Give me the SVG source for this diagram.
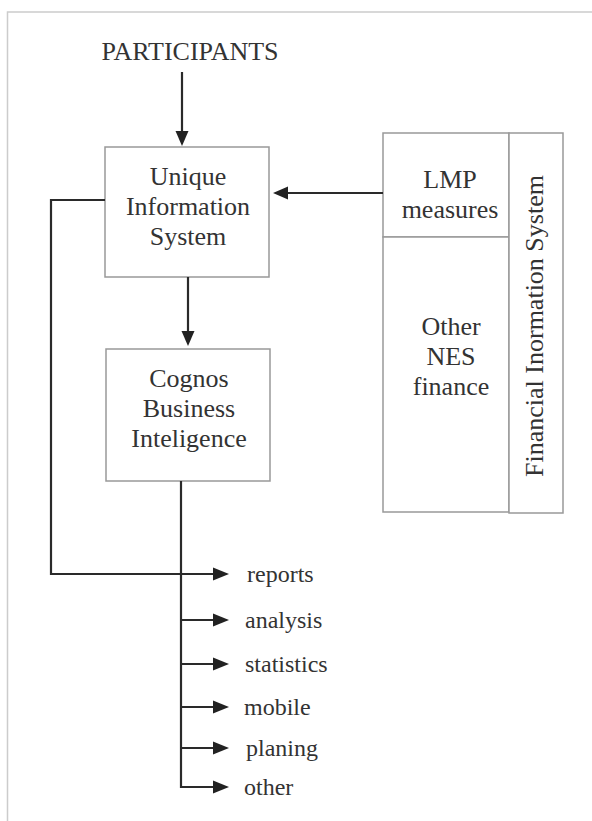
<svg xmlns="http://www.w3.org/2000/svg" width="592" height="821" viewBox="0 0 592 821">
  <style>
    .box { fill: #ffffff; stroke: #999999; stroke-width: 1.5; }
    .t { font-family: "Liberation Serif", "Times New Roman", serif; fill: #333333; }
    .bt { font-size: 26px; text-anchor: middle; }
    .lbl { font-size: 24px; }
    .con { fill: none; stroke: #2a2a2a; stroke-width: 2.2; }
    .head { fill: #222222; }
  </style>
  <rect x="0" y="0" width="592" height="821" fill="#ffffff"/>
  <path d="M7.5 821 V12 H592" fill="none" stroke="#cccccc" stroke-width="1.5"/>

  <g id="participants">
    <text class="t" x="190" y="60" font-size="26" text-anchor="middle">PARTICIPANTS</text>
  </g>

  <g id="unique-information-system">
    <rect class="box" x="105" y="147" width="164" height="130"/>
    <text class="t bt" x="188" y="185">Unique</text>
    <text class="t bt" x="188" y="215">Information</text>
    <text class="t bt" x="188" y="245">System</text>
  </g>

  <g id="cognos">
    <rect class="box" x="106" y="349" width="164" height="132"/>
    <text class="t bt" x="189" y="387">Cognos</text>
    <text class="t bt" x="189" y="417">Business</text>
    <text class="t bt" x="189" y="447">Inteligence</text>
  </g>

  <g id="lmp-measures">
    <rect class="box" x="383" y="133" width="126" height="104"/>
    <text class="t bt" x="450" y="188">LMP</text>
    <text class="t bt" x="450" y="218">measures</text>
  </g>

  <g id="other-nes-finance">
    <rect class="box" x="383" y="237" width="126" height="275"/>
    <text class="t bt" x="451" y="335">Other</text>
    <text class="t bt" x="451" y="365">NES</text>
    <text class="t bt" x="451" y="395">finance</text>
  </g>

  <g id="financial-information-system">
    <rect class="box" x="509" y="133" width="54" height="380"/>
    <text class="t bt" transform="translate(543,326) rotate(-90)">Financial Inormation System</text>
  </g>

  <g id="outputs">
    <text class="t lbl" x="247" y="582">reports</text>
    <text class="t lbl" x="245" y="628">analysis</text>
    <text class="t lbl" x="245" y="672">statistics</text>
    <text class="t lbl" x="244" y="715">mobile</text>
    <text class="t lbl" x="246" y="756">planing</text>
    <text class="t lbl" x="244" y="795">other</text>
  </g>

  <g id="connectors">
    <path class="con" d="M182 72 V134"/>
    <polygon class="head" points="175.5,131 188.5,131 182,146"/>

    <path class="con" d="M383 193 H285"/>
    <polygon class="head" points="288,186.5 288,199.5 273,193"/>

    <path class="con" d="M188 277 V334"/>
    <polygon class="head" points="181.5,331 194.5,331 188,346"/>

    <path class="con" d="M105 200 H51 V574 H216"/>
    <path class="con" d="M181 481 V787 H216"/>
    <path class="con" d="M181 620 H216 M181 664 H216 M181 707 H216 M181 748 H216"/>

    <polygon class="head" points="213,567.5 213,580.5 229,574"/>
    <polygon class="head" points="213,613.5 213,626.5 229,620"/>
    <polygon class="head" points="213,657.5 213,670.5 229,664"/>
    <polygon class="head" points="213,700.5 213,713.5 229,707"/>
    <polygon class="head" points="213,741.5 213,754.5 229,748"/>
    <polygon class="head" points="213,780.5 213,793.5 229,787"/>
  </g>
</svg>
